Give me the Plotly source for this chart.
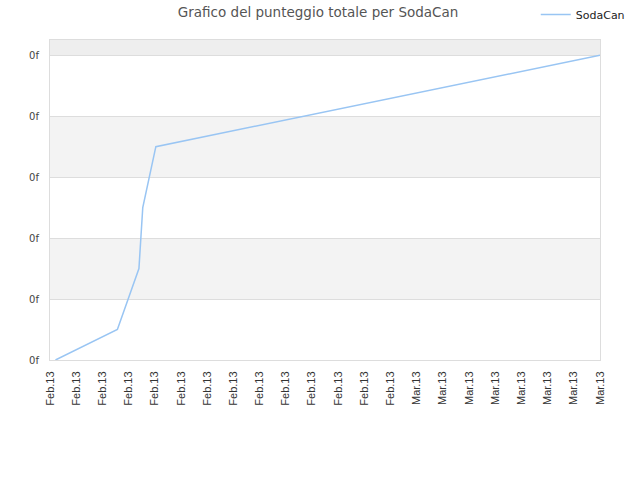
import plotly.graph_objects as go

# punteggio totale nel tempo
dates = [
    "2013-02-01 10:00",
    "2013-02-06 03:30",
    "2013-02-07 19:00",
    "2013-02-08 02:00",
    "2013-02-09 02:00",
    "2013-03-15 00:00",
]
scores = [0, 0.5, 1.5, 2.5, 3.5, 5]

y_ticks = [0, 1, 2, 3, 4, 5]
y_labels = ["0f"] * len(y_ticks)

# bande grigie alternate
bands = [(1, 2, "#f3f3f3"), (3, 4, "#f3f3f3"), (5, 5.25, "#eeeeee")]

fig = go.Figure()
fig.add_trace(go.Scatter(
    x=dates, y=scores, mode="lines", name="SodaCan",
    line=dict(color="#99c5f3", width=1.5),
))

for y0, y1, col in bands:
    fig.add_shape(type="rect", xref="x domain", yref="y", x0=0, x1=1,
                  y0=y0, y1=y1, fillcolor=col, line_width=0, layer="below")

fig.update_layout(
    width=640, height=480,
    margin=dict(l=50, r=40, t=40, b=120, autoexpand=False),
    paper_bgcolor="white", plot_bgcolor="white",
    title=dict(text="Grafico del punteggio totale per SodaCan", x=0.497, xanchor="center",
               y=0.975, yanchor="middle",
               font=dict(family="DejaVu Sans", size=13.5, color="#555555")),
    showlegend=True,
    legend=dict(xref="container", yref="container", x=0.984, y=1.0,
                xanchor="right", yanchor="top",
                font=dict(family="DejaVu Sans", size=11, color="#222222"),
                bgcolor="rgba(0,0,0,0)"),
    xaxis=dict(
        type="date", range=["2013-02-01", "2013-03-15"],
        tick0="2013-02-01", dtick=2 * 86400000, tickformat="%b.%y",
        tickangle=-90, showgrid=False, zeroline=False,
        showline=True, linecolor="#dddddd", mirror=True,
        tickfont=dict(family="Liberation Sans", size=11, color="#333333"),
        ticks="", ticklabelstandoff=6,
    ),
    yaxis=dict(
        range=[0, 5.25], tickvals=y_ticks, ticktext=y_labels,
        showgrid=True, gridcolor="#dddddd", zeroline=False,
        showline=True, linecolor="#dddddd", mirror=True,
        tickfont=dict(family="DejaVu Sans", size=10, color="#444444"),
        ticks="", ticklen=0, ticklabelstandoff=8,
    ),
)

# niente margine della pagina, il grafico parte dall'angolo
fig.write_html("out.html", config={"displayModeBar": False},
               post_script="document.body.style.margin = '0';")
